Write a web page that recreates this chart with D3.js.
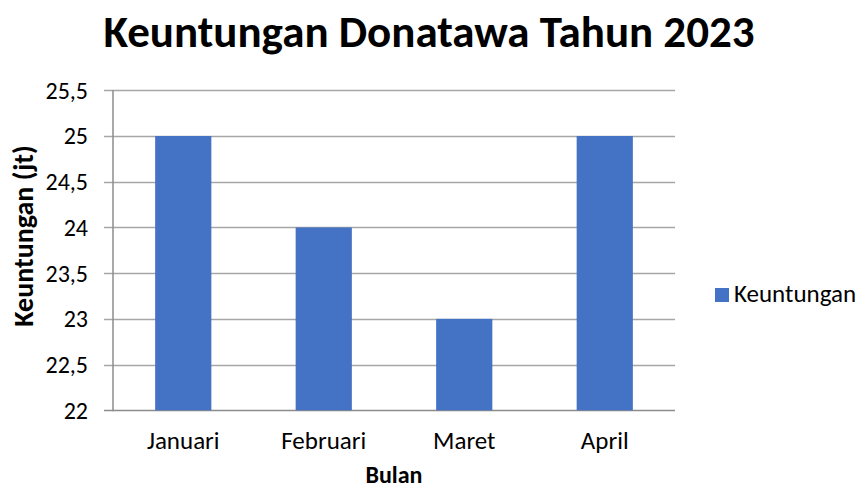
<!DOCTYPE html>
<html><head><meta charset="utf-8">
<script src="https://cdn.jsdelivr.net/npm/d3@7"></script>
<style>
html,body{margin:0;padding:0;background:#fff;}
svg{display:block;}
text{font-family:Carlito, Calibri, "Open Sans", sans-serif;fill:#000;}
</style></head>
<body>
<svg id="chart" width="859" height="489"></svg>
<script>
const title = "Keuntungan Donatawa Tahun 2023";
const categories = ["Januari", "Februari", "Maret", "April"];
const values = [25, 24, 23, 25];
const seriesName = "Keuntungan";
const yTicks = [22, 22.5, 23, 23.5, 24, 24.5, 25, 25.5];
const yTitle = "Keuntungan (jt)";
const xTitle = "Bulan";

const svg = d3.select("#chart");
const plot = {left: 113, right: 675, top: 90.3, bottom: 410.3};

const x = d3.scaleBand().domain(categories).range([plot.left, plot.right]).paddingInner(0.6).paddingOuter(0.3);
const y = d3.scaleLinear().domain([22, 25.5]).range([plot.bottom, plot.top]);
const fmt = v => String(v).replace(".", ",");

// gridlines (with outside tick marks)
svg.append("g").selectAll("line").data(yTicks).join("line")
  .attr("x1", plot.left - 9).attr("x2", plot.right)
  .attr("y1", d => Math.round(y(d)) + 0.5).attr("y2", d => Math.round(y(d)) + 0.5)
  .attr("stroke", d => d === 22 ? "#8c8c8c" : "#a6a6a6").attr("stroke-width", 1.5);

// bars
svg.append("g").selectAll("rect").data(values).join("rect")
  .attr("x", (d, i) => x(categories[i]))
  .attr("width", x.bandwidth())
  .attr("y", d => y(d))
  .attr("height", d => y(22) - y(d))
  .attr("fill", "#4472C4");

// y axis line
svg.append("line").attr("x1", plot.left).attr("x2", plot.left)
  .attr("y1", plot.top).attr("y2", plot.bottom + 1)
  .attr("stroke", "#8c8c8c").attr("stroke-width", 1.5);

// y tick labels
svg.append("g").selectAll("text").data(yTicks).join("text")
  .attr("x", 88).attr("y", d => y(d)).attr("dy", "0.35em")
  .attr("text-anchor", "end").style("font-size", "24px").text(fmt);

// x labels
svg.append("g").selectAll("text").data(categories).join("text")
  .attr("x", d => x(d) + x.bandwidth() / 2).attr("y", 449)
  .attr("text-anchor", "middle").style("font-size", "25px").text(d => d);

// title
svg.append("text").attr("x", 429).attr("y", 47).attr("text-anchor", "middle")
  .style("font-size", "45px").style("font-weight", "bold").text(title);

// axis titles
svg.append("text").attr("x", 394).attr("y", 483).attr("text-anchor", "middle")
  .style("font-size", "24px").style("font-weight", "bold").text(xTitle);
svg.append("text").attr("transform", "translate(33,236) rotate(-90)").attr("text-anchor", "middle")
  .style("font-size", "28px").style("font-weight", "bold").text(yTitle);

// legend
svg.append("rect").attr("x", 715).attr("y", 288).attr("width", 14).attr("height", 14).attr("fill", "#4472C4");
svg.append("text").attr("x", 734).attr("y", 302).style("font-size", "25px").text(seriesName);
</script>
</body></html>
